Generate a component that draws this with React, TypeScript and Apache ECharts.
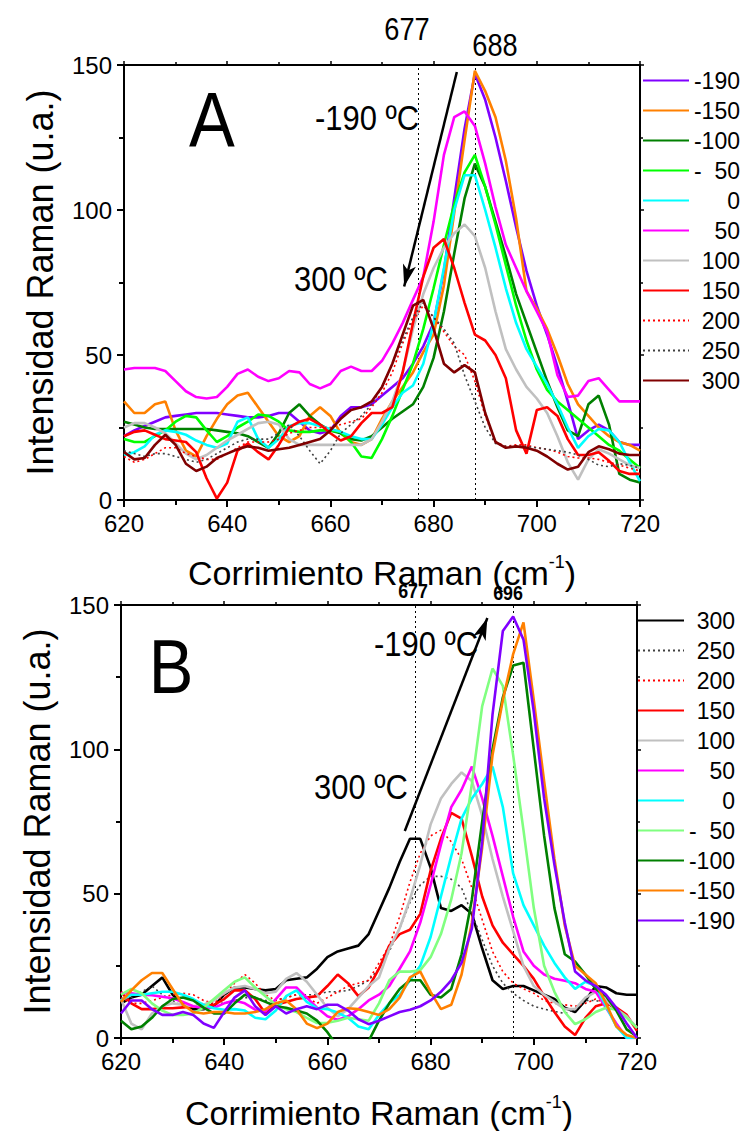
import React, { useEffect, useRef } from "react";
import * as echarts from "echarts";

const FONT = "'Liberation Sans Narrow', 'Arial Narrow', 'Liberation Sans', Arial, sans-serif";

// Raman shift grid (cm-1)
const ramanShift = [
  620, 622, 624, 626, 628, 630, 632, 634, 636, 638,
  640, 642, 644, 646, 648, 650, 652, 654, 656, 658,
  660, 662, 664, 666, 668, 670, 672, 674, 676, 678,
  680, 682, 684, 686, 688, 690, 692, 694, 696, 698,
  700, 702, 704, 706, 708, 710, 712, 714, 716, 718,
  720,
];

// ---------- Panel A ----------
const aM190 = [22, 24, 25.5, 27, 28.5, 29, 29.5, 30, 30, 30,
  29.5, 29, 28.5, 28.5, 29, 30, 30, 27, 24, 23,
  24, 29, 32, 32, 33, 36, 39, 42, 47, 53,
  61, 79, 104, 128, 147, 138, 125, 110, 94, 79,
  67, 57, 46, 34, 21, 24, 26, 24, 20, 19,
  19];
const aM150 = [34, 30, 30, 33, 34, 24, 17, 15, 22, 28,
  33, 36, 37, 32, 27, 22, 20, 22, 29, 32,
  29, 23, 20, 19, 21, 28, 34, 39, 44, 51,
  57, 74, 99, 124, 148, 141, 132, 117, 97, 72,
  66, 59, 50, 40, 33, 29, 25, 22, 20, 19,
  17];
const aM100 = [27, 26, 25, 24.5, 24.5, 24.5, 24.5, 24.5, 24.5, 24,
  23.5, 23, 22, 20, 18, 23, 30, 33, 29, 26,
  24, 23, 21, 20.5, 22, 25, 28, 30.5, 33, 39,
  49, 65, 85, 104, 116, 108, 96, 84, 71, 61,
  51, 41, 32, 24, 22, 33, 36, 26, 9, 7,
  6];
const aM50 = [21, 20, 20, 22, 24, 27, 29, 28.5, 24, 20,
  22, 25, 27, 29.5, 29, 27, 24, 23.5, 23.5, 24,
  24, 23.5, 20, 15, 14.5, 21, 29, 38, 47, 59,
  73, 88, 102, 113, 119, 108, 95, 81, 67, 55,
  45, 38, 34, 31, 28, 25, 22, 19, 17, 14,
  11];
const a0 = [15.5, 16.5, 18.5, 22.5, 24, 23.5, 22.5, 20.5, 19, 18,
  19.5, 27, 28.5, 21, 18, 21, 25.5, 26.5, 26.5, 25.5,
  24.5, 23.5, 22, 21, 21, 26, 32, 37, 39.5, 47,
  61, 80, 100, 112, 112, 100, 87, 73, 61, 52,
  46, 40, 33, 25, 18, 22, 24.5, 24, 20, 13,
  6.5];
const a50 = [45, 45.5, 45.5, 45.5, 44.5, 41, 37.5, 35.5, 35, 35.5,
  39, 43.5, 45, 42.5, 41, 42, 44.5, 44, 40, 38.5,
  40, 44.5, 46, 44.5, 44.5, 48, 54, 61, 69, 77,
  96, 119, 132, 134, 129, 116, 101, 88, 80, 72,
  65, 58, 43, 35.5, 36, 41, 42, 38, 34, 34,
  34];
const a100 = [25, 26.5, 26.5, 25, 23, 19.5, 16, 14, 15.5, 18,
  20.5, 22.5, 24.5, 26.5, 27, 26, 21, 19, 19, 19,
  19, 19, 19, 19, 21, 27, 34, 44, 59, 71,
  80, 87, 92, 95, 91, 80, 65, 52, 45, 39,
  35, 30, 22, 13, 7, 14, 17.5, 16, 14, 12,
  11];
const a150 = [22, 23.5, 24, 22.5, 21, 20.5, 20, 16.5, 7.5, 0.5,
  6, 17, 19.5, 16.5, 14, 19, 25, 27, 28, 26,
  23, 20.5, 22, 26.5, 30, 30, 32, 44, 61, 77,
  87, 90, 80, 68, 57, 55, 50, 42, 24, 16,
  31, 32, 29, 21, 15.5, 15.5, 16.5, 13.5, 10, 9,
  9];
const a200 = [15, 13, 14, 16, 18, 18, 16, 15, 14, 14,
  16, 18, 20, 20, 20, 21, 23, 24, 25, 25,
  25, 26, 27, 28, 32, 37, 44, 54, 62, 67,
  63, 58, 53, 50, 41, 29, 20, 18.5, 19, 19,
  18, 17.5, 16.5, 15, 14.5, 14.5, 14, 13, 12, 11,
  10];
const a250 = [17, 16, 15, 16, 16, 15, 14, 13, 14, 16,
  18, 20, 21, 21, 21, 23, 26, 22, 17, 12.5,
  17, 23, 26, 29, 33, 39, 47, 55, 63, 68,
  63, 59, 54, 43, 34, 25, 19.5, 18.5, 18.5, 18.5,
  18, 17.5, 17, 16.5, 15.5, 14, 12, 11.5, 12.5, 12,
  11];
const a300 = [16.5, 14, 14.5, 19, 22.5, 19, 12.5, 10, 11.5, 14.5,
  16, 17.5, 18.5, 18, 17, 17.5, 18, 19, 20, 21,
  24, 28, 31, 32, 34, 39, 47, 57, 67, 69,
  59, 47, 44, 46.5, 44, 30, 20, 18, 18.5, 18,
  17, 15, 12.5, 10.5, 11.5, 16.5, 18.5, 17.5, 16, 15.5,
  15.5];

// ---------- Panel B ----------
const b300 = [12, 14, 15, 18, 21, 15, 12, 10, 10, 11,
  15, 17.5, 17.5, 17, 16.5, 17, 20, 20.5, 21, 24,
  28, 30, 31, 32, 36, 44, 52, 61, 69, 69,
  59, 45, 44, 46, 43, 31, 20, 17, 18, 18,
  16.5, 15, 13.5, 10.5, 9, 13, 18, 17.5, 15.5, 15,
  15];
const b250 = [13, 14, 16, 18, 15, 13, 11, 11, 12, 12,
  12, 13, 14, 14, 13, 13, 14, 15, 15, 15,
  16, 16, 16.5, 18, 20, 24, 30, 38, 47, 53,
  56, 56, 55, 52, 43, 34, 25, 19, 15.5, 13,
  11, 10, 9.2, 8.5, 10, 13, 13, 12, 10, 7,
  3.5];
const b200 = [14, 12, 12, 13, 14, 15, 15.5, 15, 13, 12,
  15, 19, 22, 19, 15, 13, 14, 15, 14, 12,
  14, 16, 18, 19, 20, 26, 32, 42, 54, 64,
  70, 72, 68, 62, 52, 41, 30, 23, 19, 17,
  15.5, 13, 12, 11.5, 11, 12, 13.5, 12, 10, 7,
  4];
const b150 = [16, 12, 10, 10, 10.3, 10.3, 10.6, 10.9, 11, 11.5,
  13.5, 16.5, 16.5, 13.5, 8.5, 11.5, 12.5, 13.5, 14, 14.5,
  18, 22, 19, 14.5, 17.5, 24, 32, 36, 37.5, 43,
  58, 69, 78, 76, 63, 49, 39, 33, 29, 25,
  20.5, 14.5, 9, 4, 1, 7, 11, 12, 10.5, 8,
  2.5];
const b100 = [13.5, 5, 3, 8.5, 11, 12, 11.5, 11, 11.5, 13,
  15.5, 17.5, 18, 17, 15.5, 16, 20.5, 22.5, 19.5, 15,
  10.5, 7.5, 10, 14, 18, 21, 31, 38, 48, 60,
  74, 83, 88, 92, 89, 77, 62, 49, 37, 25,
  18, 15, 12.5, 10, 10, 14, 16, 13, 10, 7.5,
  3.5];
const b50 = [15.5, 15.5, 15, 14.8, 14.3, 13.8, 12.5, 11, 10.3, 10.5,
  12, 13, 12, 9.8, 9.3, 13.5, 17.5, 17.5, 14, 10.5,
  7.5, 6.3, 7.5, 10, 13, 15, 18, 24, 30, 40,
  53, 67, 80, 86, 94, 83, 70, 56, 42, 30,
  25, 22, 20.5, 19.8, 19, 17, 16, 10.5, 5, 0,
  0];
const b0 = [13, 15, 15, 15.5, 16, 16, 15, 13.5, 11.5, 10.3,
  9.8, 10, 9.5, 7, 6.5, 9.5, 14.5, 16.5, 12.5, 10.3,
  10, 8.8, 7, 4, 3, 8, 12, 15, 20, 25,
  35, 49, 63, 76, 83, 88, 94, 80, 57, 46,
  39, 32, 26, 21, 17, 19.5, 18, 11, 4, 0,
  0];
const bM50 = [15, 17, 15.5, 12, 9.5, 8, 8, 8.5, 10.5, 13.5,
  16.5, 19.5, 21, 17.5, 14.5, 11.5, 10, 9, 7, 5.2,
  5.3, 6, 7, 6.5, 6, 12, 20, 23, 23, 23.5,
  28, 36, 48, 64, 88, 115, 128, 122, 98, 72,
  45, 25, 16, 9, 4.8, 6.5, 9, 10.5, 9.8, 7,
  3.5];
const bM100 = [6, 3, 4, 7, 11, 13.5, 14, 13, 10.5, 8.5,
  8.5, 12, 15, 14, 12.5, 11, 10.5, 9.5, 8.5, 6,
  2, -3, -5, -4, -1, 6, 12, 17, 20, 20,
  15, 14, 17, 29, 48, 75, 100, 118, 129, 130,
  100, 70, 45, 29, 26.5, 22, 17, 14.5, 9.5, 3,
  0.5];
const bM150 = [12.5, 16.5, 20, 22.5, 22.5, 17, 11.5, 9, 8.5, 9,
  9, 8.5, 8.5, 9, 10, 12, 13, 10, 5, 3.4,
  5, 9, 10.3, 10, 9, 8, 10, 14, 21, 23,
  16, 10, 11.5, 22, 40, 66, 98, 117, 133, 144,
  117, 89, 62, 39, 25, 22, 19, 12, 4, 1,
  0];
const bM190 = [8.5, 13, 13, 10, 8, 8, 9, 8, 5, 3.5,
  9, 14, 16.5, 11, 8, 11, 8.5, 10, 11, 10,
  11.5, 11.5, 9.5, 6.5, 4.8, 6, 7.5, 9, 9.8, 11,
  13, 16, 20, 26, 38, 68, 112, 141, 146, 138,
  113, 83, 60, 40, 23, 20, 18, 15, 10.5, 5,
  0];

const labelsA = ["-190", "-150", "-100", "-  50", "0", "50", "100", "150", "200", "250", "300"];
const valuesA = [aM190, aM150, aM100, aM50, a0, a50, a100, a150, a200, a250, a300];
const labelsB = ["300", "250", "200", "150", "100", "50", "0", "-  50", "-100", "-150", "-190"];
const valuesB = [b300, b250, b200, b150, b100, b50, b0, bM50, bM100, bM150, bM190];

const peakLinesA = [677, 688];
const peakLinesB = [677, 696];

// styles
const colorsA = ["#8000ff", "#ff8000", "#008000", "#00ff00", "#00ffff", "#ff00ff", "#c0c0c0", "#ff0000", "#ff0000", "#404040", "#800000"];
const dottedA = [false, false, false, false, false, false, false, false, true, true, false];
const colorsB = ["#000000", "#404040", "#ff0000", "#ff0000", "#c0c0c0", "#ff00ff", "#00ffff", "#80ff80", "#008000", "#ff8000", "#8000ff"];
const dottedB = [false, true, true, false, false, false, false, false, false, false, false];

const refLine = { color: "#000", type: [2, 3], width: 1 };

function buildSeries(prefix: string, labels: string[], values: number[][], colors: string[], dotted: boolean[], axisIdx: number, peaks: number[], arrow: any) {
  return labels.map((lab, i) => {
    const s: any = {
      type: "line",
      name: prefix + lab,
      xAxisIndex: axisIdx,
      yAxisIndex: axisIdx,
      data: ramanShift.map((x, j) => [x, values[i][j]]),
      symbol: "none",
      showSymbol: false,
      clip: true,
      lineStyle: {
        color: colors[i],
        width: dotted[i] ? 1.6 : 2.6,
        type: dotted[i] ? [2, 3] : "solid",
      },
      itemStyle: { color: colors[i] },
      z: 3,
    };
    if (i === 0) {
      s.markLine = {
        silent: true,
        symbol: "none",
        label: { show: false },
        lineStyle: refLine,
        data: peaks.map((p) => ({ xAxis: p })),
        z: 2,
      };
    }
    if (i === 1) {
      s.markLine = {
        silent: true,
        symbol: ["none", "arrow"],
        symbolSize: [10, 22],
        label: { show: false },
        lineStyle: { color: "#000", type: "solid", width: 2.5 },
        data: [[{ coord: arrow[0] }, { coord: arrow[1] }]],
        z: 10,
      };
    }
    return s;
  });
}

const arrowA = [[684.5, 147.6], [674.3, 73.6]];
const arrowB = [[675.0, 71.7], [691.0, 145.5]];

function xAxes(grid: number) {
  const common = {
    gridIndex: grid,
    type: "value",
    min: 620,
    max: 720,
    interval: 20,
    splitLine: { show: false },
    axisLine: { show: true, onZero: false, lineStyle: { color: "#000", width: 2 } },
  };
  return [
    {
      ...common,
      position: "bottom",
      axisTick: { show: true, length: 7, lineStyle: { color: "#000", width: 2 } },
      minorTick: { show: true, splitNumber: 2, length: 5, lineStyle: { color: "#000", width: 2 } },
      axisLabel: { fontSize: 24, fontFamily: FONT, color: "#000", margin: 11 },
      name: "{a|Corrimiento Raman (cm}{s|-1}{a|)}",
      nameLocation: "middle",
      nameGap: grid === 0 ? 53 : 55,
      nameTextStyle: {
        rich: {
          a: { fontSize: 34, fontFamily: FONT, color: "#000", lineHeight: 40 },
          s: { fontSize: 18, fontFamily: FONT, color: "#000", verticalAlign: "top", lineHeight: 20 },
        },
      },
    },
    {
      ...common,
      position: "top",
      axisTick: { show: true, length: 4, lineStyle: { color: "#000", width: 1.5 } },
      minorTick: { show: true, splitNumber: 2, length: 3, lineStyle: { color: "#000", width: 1.5 } },
      axisLabel: { show: false },
    },
  ];
}

function yAxes(grid: number) {
  const common = {
    gridIndex: grid,
    type: "value",
    min: 0,
    max: 150,
    interval: 50,
    splitLine: { show: false },
    axisLine: { show: true, onZero: false, lineStyle: { color: "#000", width: 2 } },
  };
  return [
    {
      ...common,
      position: "left",
      axisTick: { show: true, length: 7, lineStyle: { color: "#000", width: 2 } },
      minorTick: { show: true, splitNumber: 2, length: 5, lineStyle: { color: "#000", width: 2 } },
      axisLabel: { fontSize: 24, fontFamily: FONT, color: "#000", margin: 12, padding: [0, 0, 5, 0] },
      name: "Intensidad Raman (u.a.)",
      nameLocation: "middle",
      nameGap: 66,
      nameTextStyle: { fontSize: 36, fontFamily: FONT, color: "#000" },
    },
    {
      ...common,
      position: "right",
      axisTick: { show: true, length: 4, lineStyle: { color: "#000", width: 1.5 } },
      minorTick: { show: true, splitNumber: 2, length: 3, lineStyle: { color: "#000", width: 1.5 } },
      axisLabel: { show: false },
    },
  ];
}

function legend(prefix: string, labels: string[], left: number, top: number) {
  return {
    data: labels.map((l) => prefix + l),
    orient: "vertical",
    left,
    top,
    padding: 0,
    itemWidth: 46,
    itemHeight: 14,
    itemGap: 7,
    selectedMode: false,
    itemStyle: { opacity: 0 },
    formatter: (name: string) => "{r|" + name.slice(2) + "}",
    textStyle: {
      rich: {
        r: { width: 46, align: "right", fontSize: 23, fontFamily: FONT, color: "#000" },
      },
    },
  };
}

function txt(text: string, x: number, y: number, size: number, weight = "normal", sx = 0.86) {
  return {
    type: "text",
    x,
    y,
    scaleX: sx,
    z: 20,
    style: {
      text,
      font: `${weight} ${size}px ${FONT}`,
      fill: "#000",
      align: "center",
      verticalAlign: "middle",
    },
  };
}

export default function App() {
  const ref = useRef<HTMLDivElement>(null);
  useEffect(() => {
    if (!ref.current) return;
    const chart = echarts.init(ref.current, undefined, { renderer: "svg" });
    const xa = [...xAxes(0), ...xAxes(1)];
    const ya = [...yAxes(0), ...yAxes(1)];
    // series use axis index 0 (panel A) and 2 (panel B)
    const seriesA = buildSeries("A ", labelsA, valuesA, colorsA, dottedA, 0, peakLinesA, arrowA);
    const seriesB = buildSeries("B ", labelsB, valuesB, colorsB, dottedB, 2, peakLinesB, arrowB);
    chart.setOption({
      animation: false,
      backgroundColor: "#fff",
      grid: [
        { left: 124, top: 65, width: 516, height: 435 },
        { left: 121, top: 605, width: 516, height: 435 },
      ],
      xAxis: xa,
      yAxis: ya,
      legend: [legend("A ", labelsA, 642, 69), legend("B ", labelsB, 637, 609)],
      series: [...seriesA, ...seriesB],
      graphic: [
        txt("A", 212, 120, 78, "normal", 0.88),
        txt("B", 171, 666, 76, "normal", 0.88),
        txt("-190 ºC", 367, 118, 36),
        txt("300 ºC", 341, 279, 36),
        txt("677", 407, 29, 32, "normal", 0.85),
        txt("688", 495, 45, 32, "normal", 0.85),
        txt("-190 ºC", 426, 644, 36),
        txt("300 ºC", 361, 787, 36),
        txt("677", 413, 590, 21, "bold", 0.85),
        txt("696", 508, 592, 21, "bold", 0.85),
      ],
    });
    return () => chart.dispose();
  }, []);
  return <div ref={ref} style={{ position: "fixed", left: 0, top: 0, width: 741, height: 1131 }} />;
}
